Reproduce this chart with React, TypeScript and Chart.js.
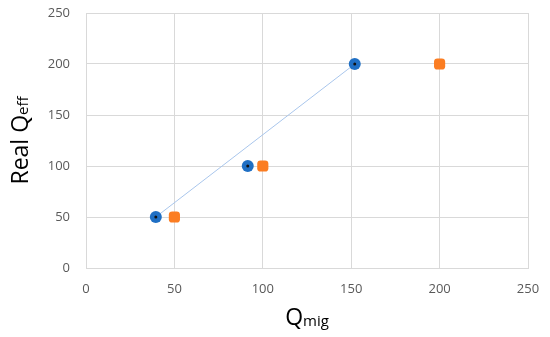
import React, { useEffect, useRef } from "react";
import { Chart, registerables } from "chart.js";

Chart.register(...registerables);

const blueX = [39.5, 91.5, 152];
const blueY = [50, 100, 200];
const orangeX = [50, 100, 200];
const orangeY = [50, 100, 200];
const trendX = [39.5, 152];
const trendY = [50, 200];
const axisTicks = [0, 50, 100, 150, 200, 250];

const FONT = "'Open Sans', 'Liberation Sans', sans-serif";

const titlePlugin = {
  id: "titles",
  afterDraw(chart: any) {
    const ctx = chart.ctx as CanvasRenderingContext2D;
    const area = chart.chartArea;
    ctx.save();
    ctx.fillStyle = "#000";
    ctx.textBaseline = "alphabetic";
    ctx.font = `23px ${FONT}`;
    const qw = ctx.measureText("Q").width;
    ctx.font = `15px ${FONT}`;
    const sw = ctx.measureText("mig").width;
    const total = qw + sw;
    const cx = (area.left + area.right) / 2;
    const x0 = cx - total / 2;
    const by = 325;
    ctx.font = `23px ${FONT}`;
    ctx.fillText("Q", x0, by);
    ctx.font = `15px ${FONT}`;
    ctx.fillText("mig", x0 + qw, by + 1);
    ctx.translate(28, (area.top + area.bottom) / 2);
    ctx.rotate(-Math.PI / 2);
    ctx.font = `23px ${FONT}`;
    const rw = ctx.measureText("Real Q").width;
    ctx.font = `15px ${FONT}`;
    const ew = ctx.measureText("eff").width;
    const t2 = rw + ew;
    ctx.font = `23px ${FONT}`;
    ctx.fillText("Real Q", -t2 / 2, 0);
    ctx.font = `15px ${FONT}`;
    ctx.fillText("eff", -t2 / 2 + rw, 0);
    ctx.restore();
  },
};

export default function App() {
  const ref = useRef<HTMLCanvasElement>(null);
  useEffect(() => {
    const chart = new Chart(ref.current!, {
      type: "scatter",
      data: {
        datasets: [
          {
            label: "trend",
            data: trendX.map((x, i) => ({ x, y: trendY[i] })),
            showLine: true,
            borderColor: "#a9c6ec",
            borderWidth: 1,
            pointRadius: 0,
            order: 4,
          },
          {
            label: "Qmig",
            data: blueX.map((x, i) => ({ x, y: blueY[i] })),
            backgroundColor: "#1f6fc4",
            borderColor: "#1f6fc4",
            pointRadius: 6,
            pointBorderWidth: 0,
            order: 2,
          },
          {
            label: "dot",
            data: blueX.map((x, i) => ({ x, y: blueY[i] })),
            backgroundColor: "#111",
            borderColor: "#111",
            pointRadius: 1.5,
            pointBorderWidth: 0,
            order: 1,
          },
          {
            label: "orange",
            data: orangeX.map((x, i) => ({ x, y: orangeY[i] })),
            backgroundColor: "#fb7d22",
            borderColor: "#fb7d22",
            pointStyle: "rectRounded",
            pointRadius: 6.5,
            pointBorderWidth: 0,
            order: 3,
          },
        ],
      },
      options: {
        animation: false,
        responsive: false,
        events: [],
        layout: { padding: { top: 13, right: 22, left: 0, bottom: 0 } },
        plugins: { legend: { display: false }, tooltip: { enabled: false } },
        scales: {
          x: {
            type: "linear",
            min: 0,
            max: 250,
            afterBuildTicks: (s: any) => {
              s.ticks = axisTicks.map((v) => ({ value: v }));
            },
            afterFit: (s: any) => {
              s.height = 69;
              s.paddingLeft = 0;
              s.paddingRight = 0;
            },
            grid: { color: "#d9d9d9", drawTicks: false },
            border: { color: "#d9d9d9" },
            ticks: { color: "#595959", font: { family: FONT, size: 13 }, padding: 13 },
          },
          y: {
            type: "linear",
            min: 0,
            max: 250,
            afterBuildTicks: (s: any) => {
              s.ticks = axisTicks.map((v) => ({ value: v }));
            },
            afterFit: (s: any) => {
              s.width = 86;
              s.paddingTop = 0;
              s.paddingBottom = 0;
            },
            grid: { color: "#d9d9d9", drawTicks: false },
            border: { color: "#d9d9d9" },
            ticks: { color: "#595959", font: { family: FONT, size: 13 }, padding: 16 },
          },
        },
      },
      plugins: [titlePlugin],
    });
    return () => chart.destroy();
  }, []);
  return (
    <div style={{ position: "fixed", left: 0, top: 0, width: 550, height: 337, background: "#fff" }}>
      <canvas ref={ref} width={550} height={337} style={{ display: "block" }} />
    </div>
  );
}
